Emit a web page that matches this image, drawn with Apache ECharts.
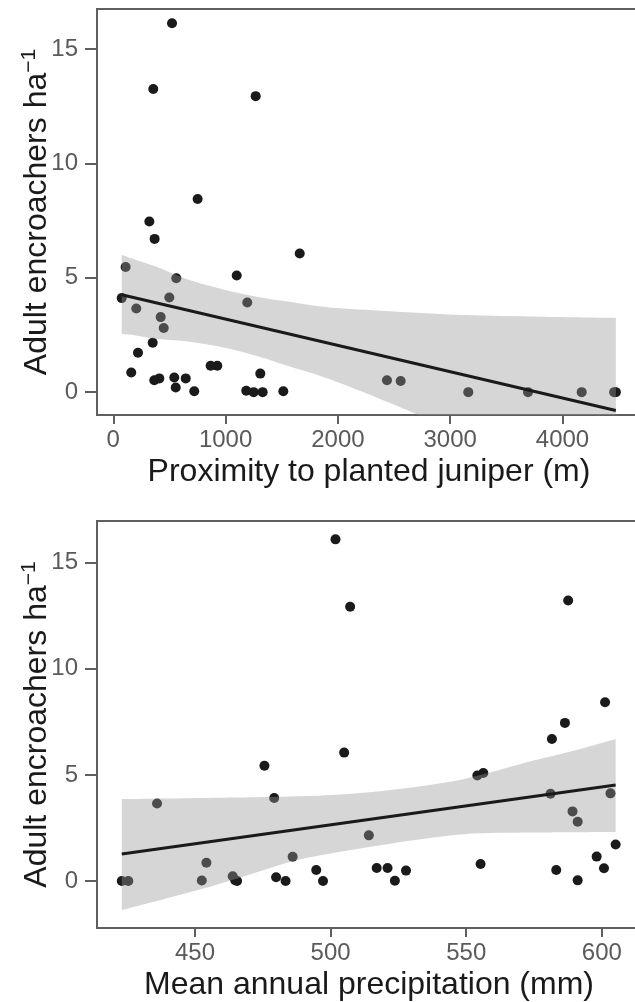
<!DOCTYPE html>
<html>
<head>
<meta charset="utf-8">
<script src="https://cdn.jsdelivr.net/npm/echarts@6/dist/echarts.min.js"></script>
<style>
html,body{margin:0;padding:0;background:#fff;}
#chart{width:635px;height:1002px;}
</style>
</head>
<body>
<div id="chart"></div>
<script>
// ---- Top panel: proximity to planted juniper (m) ----
const proximity = [523,356,1268,751,321,368,1660,1099,75,351,220,867,926,160,1309,365,410,543,645,556,721,1184,1250,1330,1514,4475,
  110,561,499,1193,205,422,449,2437,2559,3161,3693,4171,4460];
const encroachersTop = [16.13,13.25,12.94,8.44,7.46,6.70,6.06,5.10,4.11,2.16,1.72,1.15,1.15,0.86,0.81,0.52,0.60,0.64,0.60,0.20,0.04,0.06,0,0,0.04,0,
  5.47,4.98,4.14,3.92,3.66,3.28,2.80,0.52,0.49,0,0,0,0];
const fitTopX = [75, 4475];
const fitTopY = [4.26, -0.80];
const bandTopX = [75,200,386,650,980,1300,1573,1929,2464,3117,3800,4475];
const bandTopUpper = [5.99,5.78,5.48,4.95,4.49,4.15,3.95,3.70,3.54,3.37,3.30,3.25];
const bandTopLower = [2.54,2.48,2.32,2.22,1.95,1.55,1.12,0.56,-0.48,-1.85,-3.30,-4.83];
const topXTicks = [0,1000,2000,3000,4000];
const yTicks = [0,5,10,15];

// ---- Bottom panel: mean annual precipitation (mm) ----
const precipitation = [501.8,507.2,587.6,601.2,586.4,581.6,505.0,556.3,554.1,475.6,581.1,603.2,479.2,436.0,589.2,591.1,514.1,605.1,598.1,486.0,
  454.2,555.3,600.8,517.0,521.0,494.7,583.2,527.8,479.9,463.9,464.8,483.4,497.2,465.5,452.5,423.0,425.4,591.1,523.7];
const encroachersBottom = [16.10,12.92,13.22,8.42,7.45,6.69,6.05,5.09,4.97,5.43,4.11,4.13,3.91,3.65,3.28,2.79,2.15,1.72,1.15,1.14,
  0.86,0.80,0.60,0.61,0.61,0.52,0.52,0.49,0.18,0.22,0.04,0,0,0,0.02,0,0,0.03,0.01];
const fitBotX = [423.0, 605.1];
const fitBotY = [1.27, 4.52];
const bandBotX = [423,448,465,485,500,522,549,574,590,605.1];
const bandBotUpper = [3.86,3.90,3.93,3.98,4.05,4.29,4.80,5.65,6.15,6.69];
const bandBotLower = [-1.37,-0.53,0.10,0.90,1.30,1.76,2.20,2.28,2.30,2.31];
const botXTicks = [450,500,550,600];

const xTitleTop = 'Proximity to planted juniper (m)';
const xTitleBot = 'Mean annual precipitation (mm)';

const FONT = '"Liberation Sans", Arial, Helvetica, sans-serif';
const AXIS_COL = '#5f5f5f';
const LABEL_COL = '#5a5a5a';

function zip(a, b) { return a.map((v, i) => [v, b[i]]); }

// Catmull-Rom through pixel points -> cubic bezier path commands
function curveCmds(pts) {
  let s = '';
  for (let i = 0; i < pts.length - 1; i++) {
    const p0 = pts[Math.max(0, i - 1)], p1 = pts[i], p2 = pts[i + 1], p3 = pts[Math.min(pts.length - 1, i + 2)];
    const c1 = [p1[0] + (p2[0] - p0[0]) / 6, p1[1] + (p2[1] - p0[1]) / 6];
    const c2 = [p2[0] - (p3[0] - p1[0]) / 6, p2[1] - (p3[1] - p1[1]) / 6];
    s += ' C' + c1[0] + ' ' + c1[1] + ' ' + c2[0] + ' ' + c2[1] + ' ' + p2[0] + ' ' + p2[1];
  }
  return s;
}

function bandSeries(idx, bx, bu, bl) {
  return {
    type: 'custom', xAxisIndex: idx, yAxisIndex: idx, clip: true, z: 3, silent: true,
    data: [[bx[0], bu[0]]],
    renderItem: function (params, api) {
      const up = bx.map((x, i) => api.coord([x, bu[i]]));
      const lo = bx.map((x, i) => api.coord([x, bl[i]])).reverse();
      let d = 'M' + up[0][0] + ' ' + up[0][1] + curveCmds(up);
      d += ' L' + lo[0][0] + ' ' + lo[0][1] + curveCmds(lo) + ' Z';
      return { type: 'path', shape: { pathData: d, layout: 'cover' },
        style: { fill: 'rgba(153,153,153,0.4)', stroke: null } };
    }
  };
}

function xAxisOpt(gi, min, max, ticks, title) {
  return {
    type: 'value', gridIndex: gi, min: min, max: max,
    axisLine: { show: false, onZero: false },
    splitLine: { show: false },
    axisTick: { show: true, length: 9, lineStyle: { color: AXIS_COL, width: 2 }, customValues: ticks },
    axisLabel: { color: LABEL_COL, fontSize: 24, fontFamily: FONT, margin: 13, customValues: ticks,
      formatter: function (v) { return String(v); } },
    name: title, nameLocation: 'middle', nameGap: 41, nameMoveOverlap: false,
    nameTextStyle: { color: '#1a1a1a', fontSize: 32, fontFamily: FONT }
  };
}
function yAxisOpt(gi, min, max) {
  return {
    type: 'value', gridIndex: gi, min: min, max: max,
    axisLine: { show: false, onZero: false },
    splitLine: { show: false },
    axisTick: { show: true, length: 12, lineStyle: { color: AXIS_COL, width: 2 }, customValues: yTicks },
    axisLabel: { color: LABEL_COL, fontSize: 24, fontFamily: FONT, margin: 19, customValues: yTicks,
      formatter: function (v) { return String(v); } },
    name: '{a|Adult encroachers ha}{s|\u22121}', nameLocation: 'middle', nameGap: 44, nameMoveOverlap: false,
    nameTextStyle: {
      rich: {
        a: { fontSize: 32, fontFamily: FONT, color: '#1a1a1a', lineHeight: 34, padding: [12, 0, 0, 0], verticalAlign: 'bottom' },
        s: { fontSize: 21, fontFamily: FONT, color: '#1a1a1a', lineHeight: 22, verticalAlign: 'top' }
      }
    }
  };
}
function panelSeries(idx, xs, ys, bx, bu, bl, fx, fy) {
  return [
    { type: 'scatter', xAxisIndex: idx, yAxisIndex: idx, data: zip(xs, ys), symbolSize: 10,
      itemStyle: { color: '#1a1a1a', opacity: 1 }, z: 2, silent: true },
    bandSeries(idx, bx, bu, bl),
    { type: 'line', xAxisIndex: idx, yAxisIndex: idx, data: zip(fx, fy), symbol: 'none',
      lineStyle: { color: '#1a1a1a', width: 3 }, z: 4, silent: true }
  ];
}

const chart = echarts.init(document.getElementById('chart'), null, { renderer: 'canvas' });
chart.setOption({
  animation: false,
  backgroundColor: '#ffffff',
  grid: [
    { left: 97, top: 9, width: 544, height: 406, show: true, borderColor: AXIS_COL, borderWidth: 2, backgroundColor: 'transparent', containLabel: false, outerBoundsMode: 'none' },
    { left: 97, top: 521, width: 544, height: 407, show: true, borderColor: AXIS_COL, borderWidth: 2, backgroundColor: 'transparent', containLabel: false, outerBoundsMode: 'none' }
  ],
  xAxis: [
    xAxisOpt(0, -145, 4699, topXTicks, xTitleTop),
    xAxisOpt(1, 413.86, 614.45, botXTicks, xTitleBot)
  ],
  yAxis: [
    yAxisOpt(0, -1.0, 16.75),
    yAxisOpt(1, -2.215, 16.965)
  ],
  series: [].concat(
    panelSeries(0, proximity, encroachersTop, bandTopX, bandTopUpper, bandTopLower, fitTopX, fitTopY),
    panelSeries(1, precipitation, encroachersBottom, bandBotX, bandBotUpper, bandBotLower, fitBotX, fitBotY)
  )
});
</script>
</body>
</html>
